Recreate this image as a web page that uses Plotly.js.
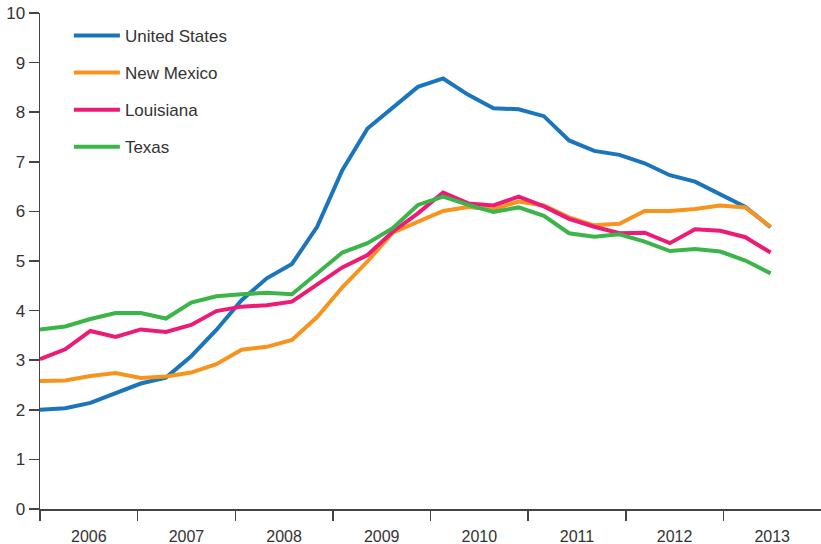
<!DOCTYPE html>
<html>
<head>
<meta charset="utf-8">
<script src="https://cdn.plot.ly/plotly-3.0.1.min.js"></script>
<style>html,body{margin:0;padding:0;background:#fff;}#chart{width:821px;height:544px;}</style>
</head>
<body>
<div id="chart"></div>
<script>
// Quarterly data, 2006 Q1 – 2013 Q2
const quarterIndex = [0,1,2,3,4,5,6,7,8,9,10,11,12,13,14,15,16,17,18,19,20,21,22,23,24,25,26,27,28,29];
const unitedStates = [2.00,2.03,2.14,2.33,2.53,2.65,3.08,3.61,4.21,4.65,4.94,5.69,6.83,7.67,8.08,8.51,8.68,8.35,8.08,8.06,7.92,7.43,7.22,7.14,6.97,6.73,6.60,6.35,6.09,5.68];
const newMexico    = [2.58,2.59,2.68,2.74,2.64,2.67,2.75,2.92,3.21,3.27,3.41,3.87,4.47,4.99,5.57,5.79,6.01,6.09,6.04,6.20,6.12,5.88,5.72,5.75,6.01,6.01,6.05,6.12,6.08,5.69];
const louisiana    = [3.02,3.22,3.59,3.47,3.62,3.57,3.71,3.99,4.08,4.11,4.18,4.53,4.87,5.12,5.59,5.96,6.38,6.16,6.12,6.30,6.10,5.85,5.69,5.56,5.57,5.36,5.64,5.61,5.48,5.17];
const texas        = [3.62,3.68,3.83,3.95,3.95,3.84,4.16,4.29,4.33,4.36,4.33,4.75,5.17,5.36,5.66,6.13,6.30,6.13,5.99,6.08,5.91,5.56,5.49,5.54,5.39,5.20,5.24,5.19,5.01,4.75];
const seriesNames  = ['United States','New Mexico','Louisiana','Texas'];
const seriesColors = ['#1b75bb','#f7941d','#ec1b75','#3bb54a'];
const years = ['2006','2007','2008','2009','2010','2011','2012','2013'];
const yTicks = [0,1,2,3,4,5,6,7,8,9,10];

const xMax = 31;               // axis span in quarter units
const yearSpan = xMax / years.length;
const yearCenters = years.map((y,k) => (k + 0.5) * yearSpan);
const yearBounds = years.map((y,k) => k * yearSpan);

const FONT = '"Liberation Sans", Arial, Helvetica, sans-serif';
const allSeries = [unitedStates, newMexico, louisiana, texas];

const traces = allSeries.map((vals, i) => ({
  type: 'scatter', mode: 'lines',
  x: quarterIndex, y: vals,
  name: seriesNames[i],
  legendgroup: 'g' + i,
  line: {color: seriesColors[i], width: 4, shape: 'linear'},
  hoverinfo: 'x+y+name'
}));

const layout = {
  width: 821, height: 544,
  margin: {l: 40, r: 0, t: 13, b: 35, pad: 0},
  paper_bgcolor: '#fff', plot_bgcolor: '#fff',
  font: {family: FONT, size: 16, color: '#333'},
  showlegend: true,
  legend: {
    x: 0.037, y: 0.99, xanchor: 'left', yanchor: 'top',
    font: {family: FONT, size: 17, color: '#333'},
    bgcolor: 'rgba(0,0,0,0)', borderwidth: 0,
    tracegroupgap: 12, itemwidth: 46
  },
  xaxis: {
    range: [0, xMax], fixedrange: true,
    showgrid: false, zeroline: false,
    showline: true, linecolor: '#444', linewidth: 1.5,
    tickmode: 'array', tickvals: yearCenters, ticktext: years,
    ticks: '', ticklabelstandoff: 12,
    tickfont: {family: FONT, size: 16, color: '#333'},
    minor: {tickmode: 'array', tickvals: yearBounds, ticks: 'outside', ticklen: 10, tickwidth: 1.5, tickcolor: '#444', showgrid: false}
  },
  yaxis: {
    range: [0, 10], fixedrange: true,
    showgrid: false, zeroline: false,
    showline: true, linecolor: '#444', linewidth: 1.5,
    tickmode: 'array', tickvals: yTicks,
    ticks: 'outside', ticklen: 10, tickwidth: 1.5, tickcolor: '#444',
    tickfont: {family: FONT, size: 17, color: '#333'}
  }
};

Plotly.newPlot('chart', traces, layout, {displayModeBar: false, staticPlot: true});
</script>
</body>
</html>
